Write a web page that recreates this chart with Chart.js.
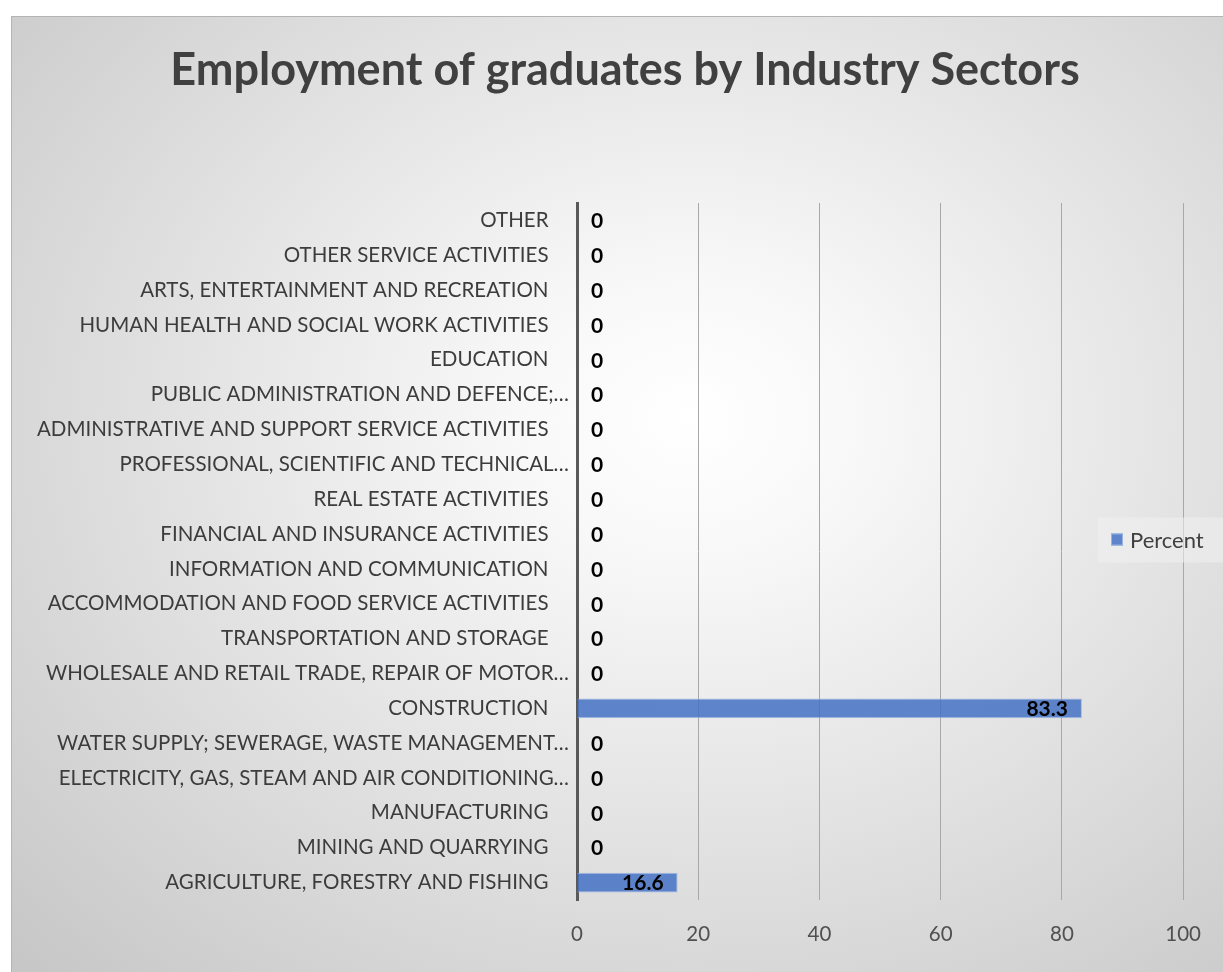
<!DOCTYPE html>
<html>
<head>
<meta charset="utf-8">
<title>Employment of graduates by Industry Sectors</title>
<script src="https://cdn.jsdelivr.net/npm/chart.js@4.4.1/dist/chart.umd.min.js"></script>
<style>
  html, body { margin: 0; padding: 0; background: #fff; overflow: hidden; }
  #wrap {
    position: absolute;
    left: 11px;
    top: 16px;
    width: 1211px;
    height: 955px;
    border-left: 1px solid #b4b4b4;
    border-top: 1px solid #b4b4b4;
    background: radial-gradient(ellipse farthest-corner at 56% 42%, #ffffff 0%, #f8f8f8 18%, #c6c6c6 100%);
  }
  canvas { display: block; }
</style>
</head>
<body>
<div id="wrap"><canvas id="chart" width="1211" height="955"></canvas></div>
<script>
// Sectors, bottom to top as they appear on the axis
const sectors = [
  'AGRICULTURE, FORESTRY AND FISHING',
  'MINING AND QUARRYING',
  'MANUFACTURING',
  'ELECTRICITY, GAS, STEAM AND AIR CONDITIONING…',
  'WATER SUPPLY; SEWERAGE, WASTE MANAGEMENT…',
  'CONSTRUCTION',
  'WHOLESALE AND RETAIL TRADE, REPAIR OF MOTOR…',
  'TRANSPORTATION AND STORAGE',
  'ACCOMMODATION AND FOOD SERVICE ACTIVITIES',
  'INFORMATION AND COMMUNICATION',
  'FINANCIAL AND INSURANCE ACTIVITIES',
  'REAL ESTATE ACTIVITIES',
  'PROFESSIONAL, SCIENTIFIC AND TECHNICAL…',
  'ADMINISTRATIVE AND SUPPORT SERVICE ACTIVITIES',
  'PUBLIC ADMINISTRATION AND DEFENCE;…',
  'EDUCATION',
  'HUMAN HEALTH AND SOCIAL WORK ACTIVITIES',
  'ARTS, ENTERTAINMENT AND RECREATION',
  'OTHER SERVICE ACTIVITIES',
  'OTHER'
];

const percent = [16.6, 0, 0, 0, 0, 83.3, 0, 0, 0, 0, 0, 0, 0, 0, 0, 0, 0, 0, 0, 0];

const xTicks = [0, 20, 40, 60, 80, 100];

const TITLE = 'Employment of graduates by Industry Sectors';
const FONT = 'Lato, "Open Sans", sans-serif';
const BAR_FILL = 'rgba(68, 114, 196, 0.85)';
const BAR_EDGE = 'rgba(160, 185, 228, 0.9)';

// title is drawn by hand so it can sit right of the canvas centre
const chartTitle = {
  id: 'chartTitle',
  afterDraw(chart) {
    const ctx = chart.ctx;
    ctx.save();
    ctx.font = 'bold 45px ' + FONT;
    ctx.fillStyle = '#404040';
    ctx.textAlign = 'center';
    ctx.textBaseline = 'alphabetic';
    ctx.fillText(TITLE, 613, 68);
    ctx.restore();
  }
};

// value labels: zero goes just past the axis, others sit inside the bar end
const valueLabels = {
  id: 'valueLabels',
  afterDatasetsDraw(chart) {
    const ctx = chart.ctx;
    const meta = chart.getDatasetMeta(0);
    ctx.save();
    ctx.font = 'bold 21px ' + FONT;
    ctx.fillStyle = '#000';
    ctx.textBaseline = 'middle';
    meta.data.forEach((bar, i) => {
      const v = chart.data.datasets[0].data[i];
      if (v === 0) {
        ctx.textAlign = 'left';
        ctx.fillText(String(v), bar.x + 14, bar.y + 1);
      } else {
        ctx.textAlign = 'right';
        ctx.fillText(String(v), bar.x - 14, bar.y + 1);
      }
    });
    ctx.restore();
  }
};

// legend box floating over the right edge of the plot
const sideLegend = {
  id: 'sideLegend',
  afterDraw(chart) {
    const ctx = chart.ctx;
    const ds = chart.data.datasets[0];
    const x = chart.width - 125;
    const y = (chart.chartArea.top + chart.chartArea.bottom) / 2 - 34;
    ctx.save();
    ctx.fillStyle = 'rgba(240, 240, 240, 0.55)';
    ctx.fillRect(x, y, 125, 45);
    ctx.fillStyle = ds.backgroundColor;
    ctx.fillRect(x + 13, y + 16, 12, 12);
    ctx.strokeStyle = ds.borderColor;
    ctx.lineWidth = 1;
    ctx.strokeRect(x + 13.5, y + 16.5, 11, 11);
    ctx.font = '22px ' + FONT;
    ctx.fillStyle = '#404040';
    ctx.textAlign = 'left';
    ctx.textBaseline = 'middle';
    ctx.fillText(ds.label, x + 32, y + 23);
    ctx.restore();
  }
};

new Chart(document.getElementById('chart'), {
  type: 'bar',
  data: {
    labels: sectors,
    datasets: [{
      label: 'Percent',
      data: percent,
      backgroundColor: BAR_FILL,
      borderColor: BAR_EDGE,
      borderWidth: 1,
      borderSkipped: 'start',
      categoryPercentage: 1,
      barPercentage: 0.57
    }]
  },
  options: {
    indexAxis: 'y',
    responsive: false,
    animation: false,
    layout: { padding: { left: 0, right: 38, top: 186, bottom: 0 } },
    plugins: {
      legend: { display: false },
      tooltip: { enabled: false },
      title: { display: false }
    },
    scales: {
      x: {
        min: 0,
        max: 100,
        afterBuildTicks: scale => { scale.ticks = xTicks.map(v => ({ value: v })); },
        afterFit: scale => { scale.height = 72; },
        grid: { color: '#a8a8a8', lineWidth: 1, drawTicks: false },
        border: { display: false },
        ticks: { color: '#505050', font: { family: FONT, size: 20.5 }, padding: 22 }
      },
      y: {
        reverse: true,
        z: 1,
        afterFit: scale => { scale.width = 565; },
        grid: { display: false, drawTicks: false },
        border: { display: true, color: '#595959', width: 3 },
        ticks: {
          autoSkip: false,
          color: '#3c3c3c',
          font: { family: FONT, size: 20.5 },
          padding: 8,
          // full names sit a little further from the axis than clipped ones
          callback: function (value) {
            const name = this.getLabelForValue(value);
            return name.endsWith('…') ? name : name + '\u2003\u2005';
          }
        }
      }
    }
  },
  plugins: [valueLabels, sideLegend, chartTitle]
});
</script>
</body>
</html>
